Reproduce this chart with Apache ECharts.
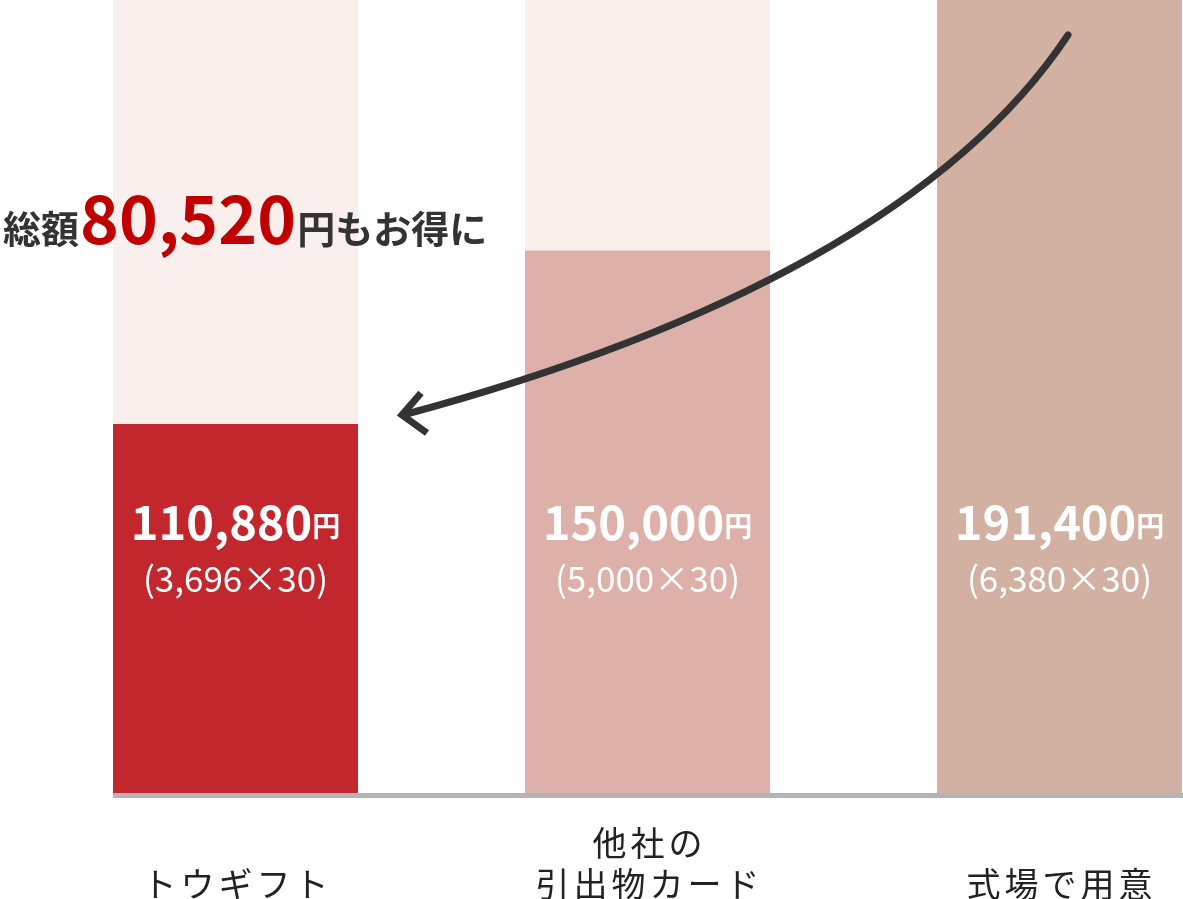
<!DOCTYPE html>
<html>
<head>
<meta charset="utf-8">
<script src="https://cdn.jsdelivr.net/npm/echarts@6/dist/echarts.min.js"></script>
<style>
  html, body { margin: 0; padding: 0; background: #fff; overflow: hidden; }
  #chart { width: 1266px; height: 899px; }
</style>
</head>
<body>
<div id="chart"></div>
<script>
// 比較するプラン
var categories = ['トウギフト', '他社の\n引出物カード', '式場で用意'];
// 1人あたりの単価（円）と人数
var unitPrices = [3696, 5000, 6380];
var guests = 30;
// 棒の高さ（一番高い棒を100とした目安、図から読み取り）
var barHeights = [46.7, 68.5, 100];
var barColors = ['#C1272D', '#DDB1A9', '#D2B1A2'];

var totals = unitPrices.map(function (p) { return p * guests; });
var saving = totals[totals.length - 1] - totals[0];

function fmt(n) { return n.toLocaleString('ja-JP'); }

var myChart = echarts.init(document.getElementById('chart'));
var FONT = '"Noto Sans CJK JP", "Noto Sans", sans-serif';
var BAR_W = 245;
var VIEW_W = 1183;

var option = {
    animation: false,
    textStyle: { fontFamily: FONT },
    title: {
        left: -2,
        top: 177,
        text: '{a|総額}{b|' + fmt(saving) + '}{a|円もお得に}',
        textStyle: {
            rich: {
                a: { fontSize: 38, fontWeight: 'bold', color: '#333', fontFamily: FONT, lineHeight: 70, verticalAlign: 'bottom', padding: [0, 0, 4, 0] },
                b: { fontSize: 66, fontWeight: 'bold', color: '#C00000', fontFamily: FONT, lineHeight: 70, verticalAlign: 'bottom', padding: [0, 1, 0, 1] }
            }
        }
    },
    grid: { left: 29.5, width: 1236, top: 0, bottom: 103.5, outerBoundsMode: 'none', containLabel: false },
    xAxis: {
        type: 'category',
        data: categories,
        axisLine: { show: false },
        axisTick: { show: false },
        axisLabel: {
            margin: 109,
            verticalAlign: 'bottom',
            lineHeight: 41,
            // 一文字ずつ区切って字間をあける
            formatter: function (v) {
                return v.split('\n').map(function (line) {
                    return line.split('').map(function (ch) { return '{c|' + ch + '}'; }).join('');
                }).join('\n');
            },
            rich: {
                c: { fontSize: 34, color: '#222', fontFamily: FONT, lineHeight: 41, padding: [0, 2, 0, 2] }
            }
        }
    },
    yAxis: { type: 'value', min: 0, max: 100, show: false },
    series: [{
        type: 'bar',
        barWidth: BAR_W,
        data: barHeights.map(function (h, i) {
            return { value: h, itemStyle: { color: barColors[i] } };
        }),
        showBackground: true,
        backgroundStyle: { color: '#F9F0ED' },
        label: {
            show: true,
            position: 'insideBottom',
            distance: 193,
            formatter: function (p) {
                var i = p.dataIndex;
                return '{v|' + fmt(totals[i]) + '}{y|円}\n{s|(' + fmt(unitPrices[i]) + '×' + guests + ')}';
            },
            rich: {
                v: { fontSize: 47, fontWeight: 'bold', color: '#fff', fontFamily: FONT, lineHeight: 64 },
                y: { fontSize: 28, fontWeight: 'bold', color: '#fff', fontFamily: FONT, lineHeight: 64, padding: [8, 0, 0, 0] },
                s: { fontSize: 35, color: '#fff', fontFamily: FONT, lineHeight: 48 }
            }
        }
    }]
};

myChart.setOption(option);

// 軸の線と矢印（装飾）
var left = myChart.convertToPixel({ xAxisIndex: 0 }, 0) - BAR_W / 2;
var baseY = myChart.convertToPixel({ yAxisIndex: 0 }, 0);
myChart.setOption({
    graphic: [
        { type: 'rect', shape: { x: left, y: baseY - 2.5, width: VIEW_W - left, height: 5 }, style: { fill: '#B4B4B4' }, z: 10 },
        { type: 'bezierCurve', shape: { x1: 1068, y1: 35, cpx1: 955, cpy1: 205, cpx2: 720, cpy2: 330, x2: 403, y2: 415 },
          style: { stroke: '#333', lineWidth: 7, fill: null, lineCap: 'round' }, z: 20 },
        { type: 'polyline', shape: { points: [[421, 393], [402, 415], [427, 433]] },
          style: { stroke: '#333', lineWidth: 7, fill: null, lineJoin: 'miter' }, z: 20 }
    ]
});
</script>
</body>
</html>
